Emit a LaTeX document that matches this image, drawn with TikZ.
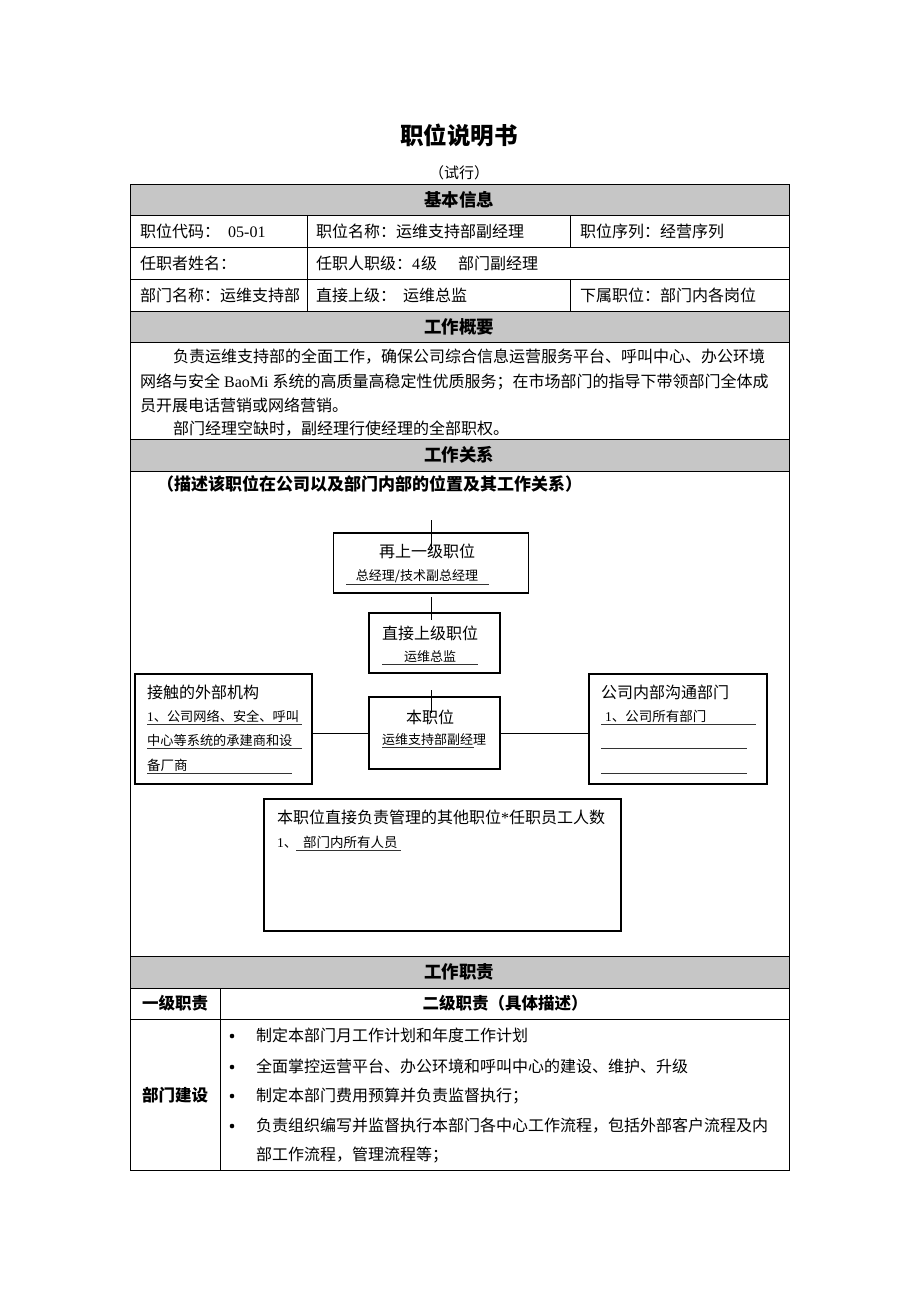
\documentclass[tikz,border=0pt]{standalone}
\usepackage{fontspec}
\setmainfont{Noto Sans CJK SC}
\newfontfamily\lat{Liberation Serif}
\XeTeXlinebreaklocale "zh"
\XeTeXlinebreakskip=0pt plus 1pt
\definecolor{hdrgray}{RGB}{198,198,198}
\begin{document}
\begin{tikzpicture}[x=1pt,y=-1pt,
  tl/.style={line width=0.9pt},
  hdrtxt/.style={anchor=base, inner sep=0pt, font=\fontsize{17.5}{20}\selectfont\bfseries},
  btxt/.style={anchor=base, inner sep=0pt, font=\fontsize{16.5}{19}\selectfont\bfseries},
  txt/.style={anchor=base west, inner sep=0pt, font=\fontsize{16}{19}\selectfont},
  jline/.style={anchor=base west, inner sep=0pt, text width=#1, align=justify, font=\fontsize{16}{19}\selectfont},
  obox/.style={draw, line width=1.1pt, inner sep=0pt},
  otitle/.style={anchor=base, inner sep=0pt, font=\fontsize{16}{19}\selectfont},
  ottl/.style={anchor=base west, inner sep=0pt, font=\fontsize{16}{19}\selectfont},
  osub/.style={anchor=base, inner sep=0pt, font=\fontsize{13}{16}\selectfont},
  osubw/.style={anchor=base west, inner sep=0pt, font=\fontsize{13.5}{16}\selectfont},
  ojline/.style={anchor=base west, inner sep=0pt, text width=#1, align=justify, font=\fontsize{13.2}{16}\selectfont},
  uline/.style={line width=0.6pt, black!80},
  conn/.style={line width=0.8pt},
  bul/.style={circle, fill=black, inner sep=0pt, minimum size=4.6pt}
]
\fill[white] (0,0) rectangle (920,1302);
\useasboundingbox (0,0) rectangle (920,1302);

% title
\node[anchor=base, inner sep=0pt, font=\fontsize{23.5}{26}\selectfont\bfseries] (title) at (459,144) {职位说明书};
\node[anchor=base, inner sep=0pt, font=\fontsize{15}{18}\selectfont] (trial) at (459,178) {（试行）};

% header fills
\fill[hdrgray] (130,184) rectangle (789,215);
\fill[hdrgray] (130,311) rectangle (789,342);
\fill[hdrgray] (130,439) rectangle (789,471);
\fill[hdrgray] (130,956) rectangle (789,988);

% table grid
\draw[tl] (130,184) rectangle (789,1170);
\foreach \yy in {215,247,279,311,342,439,471,956,988,1019}
  \draw[tl] (130,\yy) -- (789,\yy);
\draw[tl] (307,215) -- (307,311);
\draw[tl] (570,215) -- (570,247);
\draw[tl] (570,279) -- (570,311);
\draw[tl] (220,988) -- (220,1170);

% headers
\node[hdrtxt] (h1) at (459,206.5) {基本信息};
\node[hdrtxt] (h2) at (459,333) {工作概要};
\node[hdrtxt] (h3) at (459,461) {工作关系};
\node[hdrtxt] (h4) at (459,978) {工作职责};

% basic info
\node[txt] (c11) at (140,237) {职位代码：\hspace{8pt}{\lat 05-01}};
\node[txt] (c12) at (316,237) {职位名称：运维支持部副经理};
\node[txt] (c13) at (580,237) {职位序列：经营序列};
\node[txt] (c21) at (140,269) {任职者姓名：};
\node[txt] (c22) at (316,269) {任职人职级：{\lat 4}\hspace{1pt}级\hspace{21pt}部门副经理};
\node[txt] (c31) at (140,301) {部门名称：运维支持部};
\node[txt] (c32) at (316,301) {直接上级：\hspace{7pt}运维总监};
\node[txt] (c33) at (580,301) {下属职位：部门内各岗位};

% summary
\node[jline=606pt] (s1) at (173,362) {\noindent\parfillskip=0pt\relax 负责运维支持部的全面工作，确保公司综合信息运营服务平台、呼叫中心、办公环境};
\node[jline=641pt] (s2) at (140,387) {\noindent\parfillskip=0pt\relax 网络与安全{\lat\ BaoMi }系统的高质量高稳定性优质服务；在市场部门的指导下带领部门全体成};
\node[txt] (s3) at (140,411) {员开展电话营销或网络营销。};
\node[txt] (s4) at (173,434) {部门经理空缺时，副经理行使经理的全部职权。};

% relations subtitle
\node[anchor=base west, inner sep=0pt, font=\fontsize{17}{20}\selectfont\bfseries] (rsub) at (157,490) {（描述该职位在公司以及部门内部的位置及其工作关系）};

% org boxes
\node[obox, minimum width=195pt, minimum height=60pt] (b1) at (431,563) {};
\node[obox, minimum width=131pt, minimum height=60pt] (b2) at (434.5,643) {};
\node[obox, minimum width=131pt, minimum height=72pt] (b3) at (434.5,733) {};
\node[obox, minimum width=177pt, minimum height=110pt] (lb) at (223.5,729) {};
\node[obox, minimum width=178pt, minimum height=110pt] (rb) at (678,729) {};
\node[obox, minimum width=357pt, minimum height=132pt] (bb) at (442.5,865) {};

% connectors
\coordinate (v1a) at (431,520); \coordinate (v1b) at (431,550);
\coordinate (v2a) at (431,597); \coordinate (v2b) at (431,620);
\coordinate (v3a) at (431,690); \coordinate (v3b) at (431,713);
\draw[conn] (v1a) -- (v1b);
\draw[conn] (v2a) -- (v2b);
\draw[conn] (v3a) -- (v3b);
\draw[conn] (lb.east |- b3) -- (b3.west);
\draw[conn] (b3.east) -- (rb.west |- b3);

% box 1
\node[otitle] (b1t) at (427,557) {再上一级职位};
\node[osub] (b1s) at (417,580) {总经理/技术副总经理};
\draw[uline] (346,584) -- (489,584);
% box 2
\node[otitle] (b2t) at (430,639) {直接上级职位};
\node[osub] (b2s) at (430,661) {运维总监};
\draw[uline] (382,664) -- (478,664);
% box 3
\node[otitle] (b3t) at (430,723) {本职位};
\node[osub, anchor=base west] (b3s) at (382,744) {运维支持部副经理};
\draw[uline] (382,747) -- (474,747);
% left box
\node[ottl] (lbt) at (147,698) {接触的外部机构};
\node[ojline=156pt] (lb1) at (147,721) {\noindent\parfillskip=0pt\relax{\lat 1}、公司网络、安全、呼叫};
\node[ojline=156pt] (lb2) at (147,745) {\noindent\parfillskip=0pt\relax 中心等系统的承建商和设};
\node[osubw] (lb3) at (147,770) {备厂商};
\draw[uline] (147,724) -- (302,724);
\draw[uline] (147,748) -- (302,748);
\draw[uline] (147,773) -- (292,773);
% right box
\node[ottl] (rbt) at (601,698) {公司内部沟通部门};
\node[osubw] (rb1) at (605,721) {{\lat 1}、公司所有部门};
\draw[uline] (601,724) -- (756,724);
\draw[uline] (601,748) -- (747,748);
\draw[uline] (601,773) -- (747,773);
% bottom box
\node[ottl] (bbt) at (277,823) {本职位直接负责管理的其他职位{\lat *}任职员工人数};
\node[osubw] (bb1) at (277,847) {{\lat 1}、};
\node[osubw] (bb2) at (303,847) {部门内所有人员};
\draw[uline] (296,850) -- (401,850);

% duties table
\node[btxt] (d1) at (175,1009) {一级职责};
\node[btxt] (d2) at (505,1009) {二级职责（具体描述）};
\node[btxt] (d3) at (175,1101) {部门建设};

\node[bul] (p1) at (232,1036) {};
\node[bul] (p2) at (232,1067) {};
\node[bul] (p3) at (232,1096) {};
\node[bul] (p4) at (232,1126) {};
\node[txt] (i1) at (256,1041) {制定本部门月工作计划和年度工作计划};
\node[txt] (i2) at (256,1072) {全面掌控运营平台、办公环境和呼叫中心的建设、维护、升级};
\node[txt] (i3) at (256,1101) {制定本部门费用预算并负责监督执行；};
\node[jline=525pt] (i4) at (256,1131) {\noindent\parfillskip=0pt\relax 负责组织编写并监督执行本部门各中心工作流程，包括外部客户流程及内};
\node[txt] (i5) at (256,1160) {部工作流程，管理流程等；};
\end{tikzpicture}
\end{document}
